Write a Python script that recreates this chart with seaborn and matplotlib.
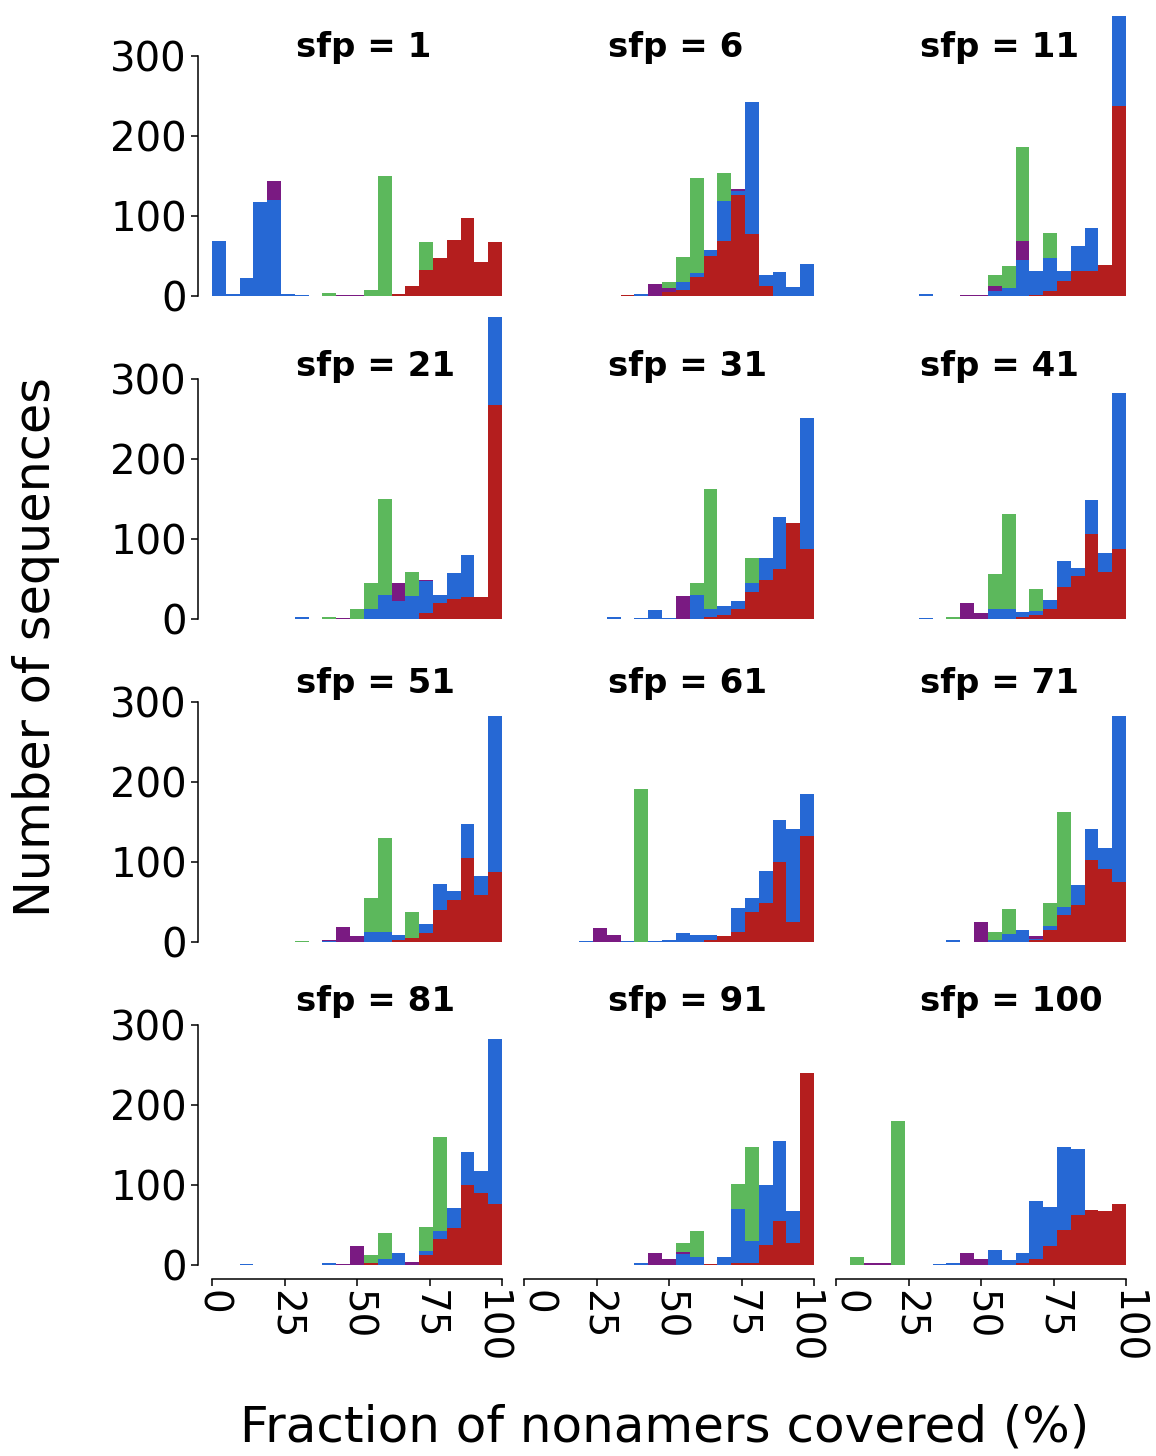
import numpy as np
import pandas as pd
import matplotlib
matplotlib.use("Agg")
import matplotlib.pyplot as plt
import matplotlib.transforms as mtransforms
import seaborn as sns

# ---------------- data ----------------
panel_titles = ["sfp = 1", "sfp = 6", "sfp = 11",
                "sfp = 21", "sfp = 31", "sfp = 41",
                "sfp = 51", "sfp = 61", "sfp = 71",
                "sfp = 81", "sfp = 91", "sfp = 100"]

bin_edges = np.linspace(0, 100, 22).tolist()   # 21 bins over 0-100 %

# counts per bin (21 bins) for each panel; stacked bottom -> top: red, blue, purple, green
red_counts = [
    [0,0,0,0,0,0,0,0,0,0,0,0,0,3,12,32,47,70,97,42,67],
    [0,0,0,0,0,0,0,1,0,0,5,8,24,50,69,126,77,12,0,0,0],
    [0,0,0,0,0,0,0,0,0,0,0,0,0,0,1,6,19,31,31,39,238],
    [0,0,0,0,0,0,0,0,0,0,0,0,0,0,0,7,20,25,27,28,267],
    [0,0,0,0,0,0,0,0,0,0,0,0,0,3,5,13,34,49,63,120,88],
    [0,0,0,0,0,0,0,0,0,0,0,0,0,3,5,12,40,54,106,59,87],
    [0,0,0,0,0,0,0,0,0,0,0,0,0,2,5,11,40,53,105,59,87],
    [0,0,0,0,0,0,0,0,0,0,0,0,0,3,7,13,38,49,100,25,133],
    [0,0,0,0,0,0,0,0,0,0,0,0,0,0,2,15,34,46,102,91,75],
    [0,0,0,0,0,0,0,0,0,0,0,2,0,0,0,12,32,46,100,90,76],
    [0,0,0,0,0,0,0,0,0,0,0,0,0,1,0,2,3,25,55,27,240],
    [0,0,0,0,0,0,0,0,0,0,0,0,0,3,8,24,44,63,69,67,76],
]
blue_counts = [
    [69,2,23,117,120,3,1,0,0,0,0,0,0,0,0,1,0,0,0,0,0],
    [0,0,0,0,0,0,0,0,2,0,0,10,5,8,50,5,166,14,30,11,40],
    [0,0,0,0,0,0,2,0,0,0,0,6,10,45,30,42,12,32,54,0,112],
    [0,0,0,0,0,0,2,0,0,0,0,12,30,22,29,41,10,32,53,0,110],
    [0,0,0,0,0,0,2,0,1,11,1,0,30,10,11,9,11,27,65,0,163],
    [0,0,0,0,0,0,1,0,0,0,0,12,12,6,5,12,33,10,43,23,196],
    [0,0,0,0,0,0,0,0,1,0,0,12,12,7,0,12,32,11,43,23,196],
    [0,0,0,0,1,0,0,1,0,1,3,11,9,6,1,29,17,40,52,116,52],
    [0,0,0,0,0,0,0,0,2,0,0,3,10,15,2,5,10,25,39,27,208],
    [0,0,1,0,0,0,0,0,2,0,0,0,7,15,0,5,10,25,41,27,207],
    [0,0,0,0,0,0,0,0,2,0,0,14,10,0,10,68,27,75,100,40,0],
    [0,0,0,0,0,0,0,1,2,0,0,19,6,12,72,48,103,82,0,0,0],
]
purple_counts = [
    [0,0,0,0,24,0,0,0,0,1,1,0,0,0,0,0,0,0,0,0,0],
    [0,0,0,0,0,0,0,0,1,15,5,0,0,0,0,3,0,0,0,0,0],
    [0,0,0,0,0,0,0,0,0,1,1,6,0,24,0,0,0,0,0,0,0],
    [0,0,0,0,0,0,0,0,0,1,0,0,0,23,0,1,0,0,0,0,0],
    [0,0,0,0,0,0,0,0,0,0,0,29,0,0,0,0,0,0,0,0,0],
    [0,0,0,0,0,0,0,0,0,20,7,0,0,0,0,0,0,0,0,0,0],
    [0,0,0,0,0,0,0,0,1,19,7,0,0,0,0,0,0,0,0,0,0],
    [0,0,0,0,0,17,9,0,0,0,0,0,0,0,0,0,0,0,0,0,0],
    [0,0,0,0,0,0,0,0,0,0,25,0,0,0,3,0,0,0,0,0,0],
    [0,0,0,0,0,0,0,0,0,1,24,0,0,0,4,0,0,0,0,0,0],
    [0,0,0,0,0,0,0,0,0,15,7,2,0,0,0,0,0,0,0,0,0],
    [0,0,2,2,0,0,0,0,0,15,8,0,0,0,0,0,0,0,0,0,0],
]
green_counts = [
    [0,0,0,0,0,0,0,0,4,0,0,7,150,0,0,35,0,0,0,0,0],
    [0,0,0,0,0,0,0,0,0,0,7,31,118,0,35,0,0,0,0,0,0],
    [0,0,0,0,0,0,0,0,0,0,0,14,27,117,0,31,0,0,0,0,0],
    [0,0,0,0,0,0,0,0,2,0,13,33,120,0,30,0,0,0,0,0,0],
    [0,0,0,0,0,0,0,0,0,0,0,0,15,149,0,0,31,0,0,0,0],
    [0,0,0,0,0,0,0,0,2,0,0,44,119,0,28,0,0,0,0,0,0],
    [0,0,0,0,0,0,1,0,0,0,0,43,118,0,33,0,0,0,0,0,0],
    [0,0,0,0,0,0,0,0,191,0,0,0,0,0,0,0,0,0,0,0,0],
    [0,0,0,0,0,0,0,0,0,0,0,10,31,0,0,29,118,0,0,0,0],
    [0,0,0,0,0,0,0,0,0,0,0,10,33,0,0,31,118,0,0,0,0],
    [0,0,0,0,0,0,0,0,0,0,0,12,32,0,0,31,118,0,0,0,0],
    [0,10,0,0,180,0,0,0,0,0,0,0,0,0,0,0,0,0,0,0,0],
]

series_names = ["green", "purple", "blue", "red"]   # seaborn stacks last level at bottom
series_colors = {"red": "#B41E1E", "blue": "#2668D4",
                 "purple": "#7A1A82", "green": "#5CB85C"}
x_ticks = [0, 25, 50, 75, 100]
y_ticks = [0, 100, 200, 300]

# ---------------- long table ----------------
centers = [(a + b) / 2 for a, b in zip(bin_edges[:-1], bin_edges[1:])]
series_data = {"red": red_counts, "blue": blue_counts,
               "purple": purple_counts, "green": green_counts}
rows = []
for p, title in enumerate(panel_titles):
    for s, counts in series_data.items():
        for c, n in zip(centers, counts[p]):
            rows.append((title, s, c, float(n)))
df = pd.DataFrame(rows, columns=["panel", "series", "coverage", "count"])

# ---------------- plot ----------------
sns.set_theme(style="ticks")
plt.rcParams["font.family"] = ["DejaVu Sans"]
plt.rcParams["text.color"] = "black"
plt.rcParams["xtick.color"] = "black"
plt.rcParams["ytick.color"] = "black"
plt.rcParams["axes.edgecolor"] = "black"

fig, axes = plt.subplots(4, 3, figsize=(11.56, 14.56), dpi=100)
fig.subplots_adjust(left=212/1156, right=1126/1156, top=1.0, bottom=1-1265/1456,
                    wspace=22/290, hspace=27/296)

title_levels = [310, 316, 323, 329]   # title height per row (data units)

for i, ax in enumerate(axes.flat):
    row, col = divmod(i, 3)
    sub = df[df["panel"] == panel_titles[i]].reset_index(drop=True)
    sns.histplot(data=sub, x="coverage", weights="count", hue="series",
                 hue_order=series_names, palette=series_colors, bins=bin_edges,
                 multiple="stack", element="bars", alpha=1, linewidth=0,
                 legend=False, ax=ax)
    for patch in ax.patches:
        patch.set_clip_on(False)
    ax.set_xlim(0, 100)
    ax.set_ylim(0, 370)
    ax.set_xlabel("")
    ax.set_ylabel("")
    ax.set_xticks(x_ticks)
    ax.set_yticks(y_ticks)
    trans = mtransforms.blended_transform_factory(ax.transAxes, ax.transData)
    ax.text(0.29, title_levels[row], panel_titles[i], transform=trans, fontsize=24.5,
            fontweight="bold", va="center", ha="left")
    is_left = col == 0
    is_bottom = row == 3
    sns.despine(ax=ax, left=not is_left, bottom=not is_bottom, offset=10, trim=True)
    for sp in ax.spines.values():
        sp.set_linewidth(1.1)
    ax.tick_params(axis="y", labelsize=29, length=5, width=1.1, pad=3)
    ax.tick_params(axis="x", labelsize=28, length=5, width=1.1, pad=3,
                   labelrotation=-90)
    if not is_left:
        ax.tick_params(axis="y", left=False, labelleft=False)
    if not is_bottom:
        ax.tick_params(axis="x", bottom=False, labelbottom=False)
    else:
        # nudge end labels apart where neighbouring panels meet
        ticks = ax.xaxis.get_major_ticks()
        if col > 0:
            lab = ticks[0].label1
            lab.set_transform(lab.get_transform() +
                              mtransforms.ScaledTranslation(0.13, 0, fig.dpi_scale_trans))
        if col < 2:
            lab = ticks[-1].label1
            lab.set_transform(lab.get_transform() +
                              mtransforms.ScaledTranslation(-0.12, 0, fig.dpi_scale_trans))

fig.text(36/1156, 1-647/1456, "Number of sequences", rotation=90,
         fontsize=35.5, ha="center", va="center")
fig.text(665/1156, 1-1428/1456, "Fraction of nonamers covered (%)",
         fontsize=36, ha="center", va="center")

fig.savefig("out.png", dpi=100)
